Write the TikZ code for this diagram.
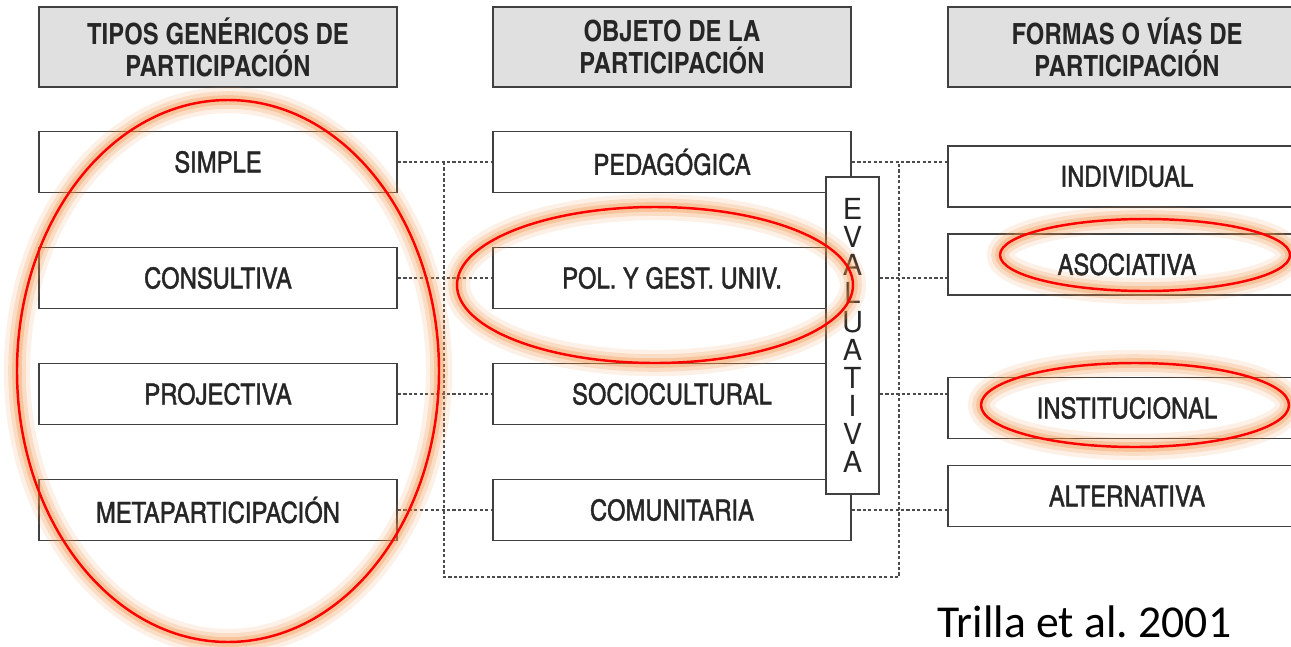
\documentclass[tikz,border=0pt]{standalone}
\usepackage{fontspec}
\newfontfamily\cnfont{texgyreheroscn}[Extension=.otf,UprightFont=*-regular,BoldFont=*-bold,FakeBold=1.3]
\newfontfamily\cnbold{texgyreheroscn-bold.otf}
\newfontfamily\herosfont{TeX Gyre Heros}
\newfontfamily\carlitofont{Carlito}
\usetikzlibrary{positioning}
\definecolor{halo}{RGB}{242,140,60}

\begin{document}
\begin{tikzpicture}[x=0.02cm,y=-0.02cm,
caja/.style={draw=black!75,line width=1.1pt,fill=white,minimum width=7.16cm,minimum height=1.22cm,inner sep=0pt,text=black!85,font=\cnfont\fontsize{16.5}{18}\selectfont},
titulo/.style={caja,fill=black!12,minimum height=1.6cm,align=center,font=\cnbold\fontsize{16.6}{18.2}\selectfont},
enlace/.style={draw=black!70,line width=1.3pt,dash pattern=on 1.8pt off 1.3pt},
marca/.style={draw=red,line width=1.4pt,
 preaction={draw=halo,opacity=.12,line width=15pt},
 preaction={draw=halo,opacity=.2,line width=10pt},
 preaction={draw=halo,opacity=.3,line width=5.5pt}}]
\path[use as bounding box,clip](0,0)rectangle(1291,646);
% cabeceras
\node[titulo](tipos)at(218,47){TIPOS GENÉRICOS DE\\PARTICIPACIÓN};
\node[titulo](objeto)at(672,47){OBJETO DE LA\\PARTICIPACIÓN};
\node[titulo](formas)at(1127,47){FORMAS O VÍAS DE\\PARTICIPACIÓN};
% columnas
\node[caja](simple)at(218,162){SIMPLE};
\node[caja](consul)at(218,278){CONSULTIVA};
\node[caja](proyec)at(218,394){PROJECTIVA};
\node[caja](meta)at(218,510){METAPARTICIPACIÓN};
\node[caja](pedag)at(672,162){PEDAGÓGICA};
\node[caja](polgest)at(672,278){POL. Y GEST. UNIV.};
\node[caja](socio)at(672,394){SOCIOCULTURAL};
\node[caja](comun)at(672,510){COMUNITARIA};
\node[caja](indiv)at(1127,176.5){INDIVIDUAL};
\node[caja](asoc)at(1127,264.5){ASOCIATIVA};
\node[caja](inst)at(1127,408){INSTITUCIONAL};
\node[caja](alter)at(1127,496){ALTERNATIVA};
\node[draw=black!75,line width=1.1pt,fill=white,minimum width=1.06cm,minimum height=6.34cm,inner sep=0pt,align=center,text=black!85,font=\herosfont\fontsize{16.5}{16}\selectfont](eval)at(852.5,335.5){E\\V\\A\\L\\U\\A\\T\\I\\V\\A};
% enlaces punteados
\coordinate(bl)at(444,577);
\coordinate(br)at(899,577);
\draw[enlace](simple)--(pedag);
\draw[enlace](consul)--(polgest);
\draw[enlace](proyec)--(socio);
\draw[enlace](meta)--(comun);
\draw[enlace](simple.east-|bl)--(bl)--(br)--(pedag.east-|br);
\draw[enlace](pedag.east)--(pedag.east-|indiv.west);
\draw[enlace](eval.east|-polgest)--(polgest-|asoc.west);
\draw[enlace](eval.east|-socio)--(socio-|inst.west);
\draw[enlace](comun.east)--(comun-|alter.west);
% resaltados
\draw[marca](228,371)ellipse[x radius=211,y radius=271];
\draw[marca](655,285)ellipse[x radius=198,y radius=78];
\draw[marca](1145,255)ellipse[x radius=145,y radius=36];
\draw[marca](1135,405)ellipse[x radius=154,y radius=42];
\node[anchor=base west,inner sep=0pt,font=\carlitofont\fontsize{26}{30}\selectfont](cita)at(937,637){Trilla et al.\ 2001};
\end{tikzpicture}
\end{document}
